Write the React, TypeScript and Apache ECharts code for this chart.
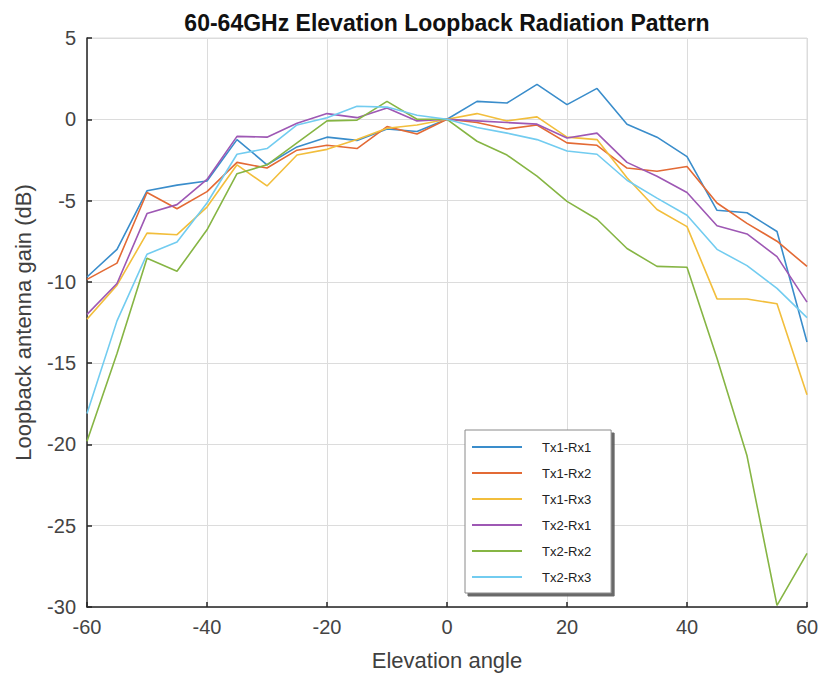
import React, { useEffect, useRef } from "react";
import * as echarts from "echarts";

const angles = [-60, -55, -50, -45, -40, -35, -30, -25, -20, -15, -10, -5, 0, 5, 10, 15, 20, 25, 30, 35, 40, 45, 50, 55, 60];

const seriesNames = ["Tx1-Rx1", "Tx1-Rx2", "Tx1-Rx3", "Tx2-Rx1", "Tx2-Rx2", "Tx2-Rx3"];

const tx1rx1 = [-9.7, -8.0, -4.4, -4.05, -3.8, -1.25, -2.8, -1.7, -1.1, -1.3, -0.6, -0.75, 0, 1.1, 1.0, 2.15, 0.9, 1.9, -0.3, -1.1, -2.3, -5.6, -5.75, -6.9, -13.7];
const tx1rx2 = [-9.85, -8.85, -4.5, -5.5, -4.45, -2.65, -3.0, -1.9, -1.6, -1.8, -0.45, -0.9, 0, -0.2, -0.6, -0.35, -1.45, -1.6, -3.0, -3.2, -2.9, -5.15, -6.4, -7.5, -9.05];
const tx1rx3 = [-12.3, -10.2, -7.0, -7.1, -5.4, -2.8, -4.1, -2.2, -1.85, -1.25, -0.55, -0.35, 0, 0.35, -0.1, 0.15, -1.1, -1.25, -3.6, -5.55, -6.6, -11.05, -11.05, -11.35, -16.95];
const tx2rx1 = [-12.0, -10.1, -5.8, -5.25, -3.7, -1.05, -1.1, -0.25, 0.35, 0.1, 0.7, -0.1, 0, -0.1, -0.2, -0.3, -1.15, -0.85, -2.65, -3.5, -4.5, -6.55, -7.05, -8.45, -11.25];
const tx2rx2 = [-19.8, -14.4, -8.55, -9.35, -6.8, -3.35, -2.8, -1.45, -0.1, -0.05, 1.1, 0, 0, -1.35, -2.2, -3.5, -5.05, -6.15, -7.95, -9.05, -9.1, -14.7, -20.7, -29.9, -26.7];
const tx2rx3 = [-18.1, -12.4, -8.3, -7.55, -5.15, -2.15, -1.8, -0.35, 0.1, 0.8, 0.75, 0.25, 0, -0.5, -0.85, -1.25, -1.95, -2.15, -3.75, -4.85, -5.9, -8.0, -9.0, -10.4, -12.2];

const seriesValues = [tx1rx1, tx1rx2, tx1rx3, tx2rx1, tx2rx2, tx2rx3];
const colors = ["#3A8DCB", "#E36A35", "#F2BE3C", "#9E58B4", "#86B544", "#72CCF0"];

const titleText = "60-64GHz Elevation Loopback Radiation Pattern";
const xName = "Elevation angle";
const yName = "Loopback antenna gain (dB)";

export default function App() {
  const ref = useRef<HTMLDivElement>(null);
  useEffect(() => {
    if (!ref.current) return;
    const chart = echarts.init(ref.current, null, { renderer: "svg" });
    const font = "Arial, 'Liberation Sans', Helvetica, sans-serif";
    chart.setOption({
      animation: false,
      backgroundColor: "#ffffff",
      title: {
        text: titleText,
        left: 442,
        top: 6,
        textAlign: "center",
        textStyle: { fontFamily: font, fontSize: 23, fontWeight: "bold", color: "#111111" },
      },
      grid: {
        left: 87,
        right: 15,
        top: 38,
        bottom: 76,
        show: true,
        borderColor: "#dcdcdc",
        borderWidth: 1,
        backgroundColor: "transparent",
      },
      legend: {
        orient: "vertical",
        left: 465,
        top: 430,
        padding: [10, 20, 9, 7],
        itemWidth: 50,
        itemHeight: 2,
        itemGap: 12,
        icon: "rect",
        backgroundColor: "#ffffff",
        borderColor: "#8a8a8a",
        borderWidth: 1,
        shadowColor: "rgba(90,90,90,0.9)",
        shadowBlur: 0,
        shadowOffsetX: 3,
        shadowOffsetY: 3,
        textStyle: { fontFamily: font, fontSize: 13, color: "#222222", lineHeight: 14, padding: [0, 0, 0, 15] },
        data: seriesNames,
      },
      xAxis: {
        type: "value",
        min: -60,
        max: 60,
        interval: 20,
        name: xName,
        nameLocation: "middle",
        nameGap: 42,
        nameTextStyle: { fontFamily: font, fontSize: 22, color: "#404040" },
        axisLine: { show: true, onZero: false, lineStyle: { color: "#262626", width: 1.5 } },
        axisTick: { show: true, inside: true, length: 5, lineStyle: { color: "#262626", width: 1.5 } },
        axisLabel: { fontFamily: font, fontSize: 20, color: "#444444", margin: 10 },
        splitLine: { show: true, lineStyle: { color: "#dcdcdc", width: 1 } },
      },
      yAxis: {
        type: "value",
        min: -30,
        max: 5,
        interval: 5,
        name: yName,
        nameLocation: "middle",
        nameGap: 53,
        nameTextStyle: { fontFamily: font, fontSize: 22, color: "#404040" },
        axisLine: { show: true, onZero: false, lineStyle: { color: "#262626", width: 1.5 } },
        axisTick: { show: true, inside: true, length: 5, lineStyle: { color: "#262626", width: 1.5 } },
        axisLabel: { fontFamily: font, fontSize: 20, color: "#444444", margin: 11 },
        splitLine: { show: true, lineStyle: { color: "#dcdcdc", width: 1 } },
      },
      series: seriesNames.map((name, i) => ({
        name,
        type: "line",
        symbol: "none",
        color: colors[i],
        lineStyle: { width: 1.6, color: colors[i] },
        data: angles.map((a, j) => [a, seriesValues[i][j]]),
      })),
    });
    return () => chart.dispose();
  }, []);
  return (
    <div
      ref={ref}
      style={{ position: "fixed", left: 0, top: 0, width: 822, height: 683, background: "#ffffff" }}
    />
  );
}
